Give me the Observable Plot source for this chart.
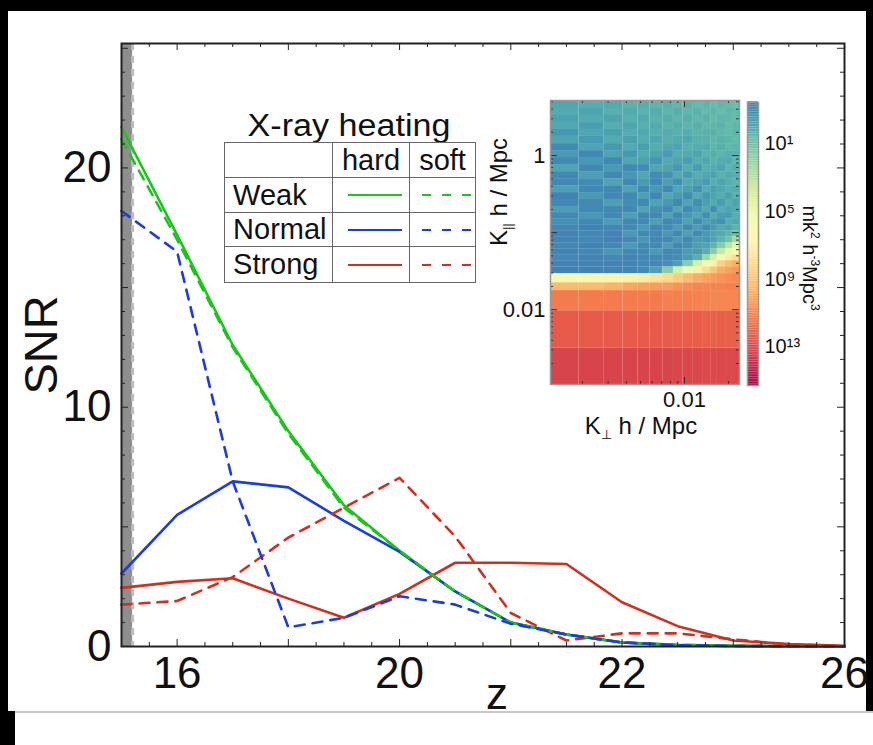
<!DOCTYPE html>
<html>
<head>
<meta charset="utf-8">
<script src="https://cdn.jsdelivr.net/npm/d3@7"></script>
<script src="https://cdn.jsdelivr.net/npm/@observablehq/plot@0.6"></script>
<style>
  html, body { margin: 0; padding: 0; background: #000; }
  #page { position: relative; width: 873px; height: 745px; overflow: hidden; background: #000; font-family: "Liberation Sans", Arial, sans-serif; }
  .abs { position: absolute; }
  #legend { border-collapse: collapse; background: #fff; font-size: 29px; color: #111; }
  #legend td { border: 1px solid #666; padding: 0; vertical-align: middle; }
</style>
</head>
<body>
<div id="page">
  <div class="abs" style="left:8px;top:11px;width:858px;height:700px;background:#fff"></div>
  <div class="abs" style="left:15px;top:711px;width:858px;height:34px;background:#fff;border-top:2px solid #c8c8c8"></div>
  <div id="main" class="abs" style="left:0;top:0"></div>
  <div class="abs" style="left:224px;top:108px;width:250px;text-align:center;font-size:31px;color:#111;transform:scaleX(1.1)">X-ray heating</div>
  <table id="legend" class="abs" style="left:224px;top:142px">
    <tr style="height:35px"><td style="width:107px"></td><td style="width:76px;text-align:center">hard</td><td style="width:65px;text-align:center">soft</td></tr>
    <tr style="height:35px"><td>&nbsp;Weak</td><td id="lh0"></td><td id="ls0"></td></tr>
    <tr style="height:33px"><td>&nbsp;Normal</td><td id="lh1"></td><td id="ls1"></td></tr>
    <tr style="height:36px"><td>&nbsp;Strong</td><td id="lh2"></td><td id="ls2"></td></tr>
  </table>
  <div id="inset" class="abs" style="left:470px;top:90px"></div>
  <div id="cbar" class="abs" style="left:737px;top:92px"></div>
  <div class="abs" style="left:500px;top:192px;transform:translate(-50%,-50%) rotate(-90deg);white-space:nowrap;font-size:24px;color:#111">K<sub style="font-size:13px">||</sub> h / Mpc</div>
  <div class="abs" style="left:641px;top:427px;transform:translate(-50%,-50%);white-space:nowrap;font-size:24px;color:#111">K<sub style="font-size:13px">⊥</sub> h / Mpc</div>
  <div class="abs" style="left:810px;top:258px;transform:translate(-50%,-50%) rotate(90deg);white-space:nowrap;font-size:20px;color:#111">mk<sup style="font-size:12px">2</sup> h<sup style="font-size:12px">-3</sup>Mpc<sup style="font-size:12px">3</sup></div>
</div>
<script>
// ---------- main chart data ----------
const zGrid = [15.5, 16, 16.5, 17, 17.5, 18, 18.5, 19, 19.5, 20, 20.5, 21, 21.5, 22];
const weakHard   = [21.7, 17.2, 12.6, 9.0, 5.9, 4.0, 2.3, 1.0, 0.5, 0.17, 0.07, 0.03, 0.01, 0.0];
const weakSoft   = [21.2, 17.0, 12.5, 8.9, 5.8, 4.0, 2.3, 1.0, 0.5, 0.17, 0.07, 0.03, 0.01, 0.0];
const normalHard = [3.05, 5.5, 6.9, 6.65, 5.25, 3.95, 2.3, 1.0, 0.5, 0.17, 0.05, 0.02, 0.01, 0.0];
const normalSoft = [18.2, 16.5, 6.9, 0.8, 1.2, 2.1, 1.75, 0.95, 0.5, 0.17, 0.05, 0.02, 0.01, 0.0];
const strongHard = [2.45, 2.7, 2.85, 2.0, 1.2, 2.2, 3.5, 3.5, 3.45, 1.85, 0.85, 0.25, 0.1, 0.03];
const strongSoft = [1.75, 1.9, 2.9, 4.55, 5.8, 7.05, 4.6, 1.4, 0.25, 0.55, 0.55, 0.3, 0.08, 0.02];

const xTickValues = [16, 18, 20, 22];
const xTickLabels = ["16", "20", "22", "26"];
const yTickValues = [0, 10, 20];
const yTickLabels = ["0", "10", "20"];
const xMajor = [16, 17, 18, 19, 20, 21, 22];
const xMinor = [15.75, 16.25, 16.5, 16.75, 17.25, 17.5, 17.75, 18.25, 18.5, 18.75, 19.25, 19.5, 19.75, 20.25, 20.5, 20.75, 21.25, 21.5, 21.75];
const yMajor = [5, 10, 15, 20, 25];
const yMinor = [1, 2, 3, 4, 6, 7, 8, 9, 11, 12, 13, 14, 16, 17, 18, 19, 21, 22, 23, 24];
const shadeBand = [15.5, 15.6];

const series = [
  {name: "Weak",   kind: "hard", color: "#1ec41e", values: weakHard},
  {name: "Normal", kind: "hard", color: "#1b3ed8", values: normalHard},
  {name: "Strong", kind: "hard", color: "#d2301e", values: strongHard},
  {name: "Strong", kind: "soft", color: "#d2301e", values: strongSoft},
  {name: "Weak",   kind: "soft", color: "#1ec41e", values: weakSoft},
  {name: "Normal", kind: "soft", color: "#1b3ed8", values: normalSoft}
];
const dash = "10,8";

// ---------- inset heat-map data ----------
const kPerpEdges = [0.00121, 0.0019, 0.0028, 0.0038, 0.0048, 0.0058, 0.0071, 0.0084, 0.0098, 0.0115, 0.0133, 0.0151, 0.0168, 0.0191, 0.0213, 0.0238];
const kParEdges = [0.00107, 0.0032, 0.0097, 0.0177, 0.0224, 0.0294, 0.0361, 0.0433, 0.0518, 0.0619, 0.0741, 0.0887, 0.106, 0.127, 0.152, 0.182, 0.218, 0.269, 0.331, 0.407, 0.502, 0.619, 0.764, 0.942, 1.16, 1.43, 1.77, 2.18, 2.68, 3.31, 4.08, 5.18];
// log10 power per cell, rows from lowest k_par upward, columns from lowest k_perp
const heat = [
  [13.2,13.2,13.2,13.2,13.2,13.2,13.2,13.1,13.1,13.1,13.0,13.0,13.0,13.0,13.0],
  [12.4,12.4,12.4,12.4,12.4,12.4,12.4,12.3,12.3,12.3,12.2,12.2,12.2,12.2,12.2],
  [11.3,11.3,11.3,11.3,11.3,11.3,11.2,11.2,11.2,11.1,11.1,11.0,11.0,11.0,11.0],
  [9.4,9.4,9.6,10.0,10.2,10.3,10.4,10.6,10.8,11.0,11.0,11.1,11.1,11.2,11.2],
  [6.3,6.3,6.6,6.9,7.2,7.7,8.2,8.7,9.3,9.8,10.1,10.4,10.6,10.8,10.9],
  [-1.3,-1.3,-1.2,-1.2,-1.0,-0.3,1.6,4.0,5.5,7.0,8.0,9.0,9.8,10.2,10.5],
  [-1.3,-1.3,-1.3,-1.2,-1.1,-1.1,-0.9,-0.3,1.6,4.0,5.5,7.0,8.5,9.3,9.8],
  [-1.1,-1.3,-1.1,-1.3,-1.1,-1.1,-1.1,-0.9,-0.5,0.2,2.2,4.0,6.0,7.2,8.0],
  [-1.3,-1.1,-0.6,-1.1,-1.1,-0.5,-1.1,-1.0,-0.4,-0.5,0.2,1.6,3.5,5.0,6.2],
  [-1.1,-1.3,-1.1,-0.5,-1.1,-1.1,-0.4,-1.1,-0.9,-0.3,-0.2,0.4,1.6,3.0,4.5],
  [-1.3,-1.1,-1.3,-1.1,-0.6,-1.1,-1.1,-0.5,-1.1,-0.4,-0.6,-0.2,0.4,1.0,2.4],
  [-1.3,-1.1,-1.3,-0.5,-1.1,-1.1,-0.6,-1.1,-0.3,-1.0,-0.5,-0.2,0.0,0.4,1.0],
  [-1.1,-1.3,-1.1,-1.1,-0.5,-1.1,-1.0,-0.4,-1.1,-0.3,-1.0,-0.5,0.0,-0.2,0.4],
  [-0.8,-1.1,-0.4,-1.1,-1.1,-0.3,-1.1,-0.9,-0.2,-1.0,-0.2,-0.6,-0.8,0.1,-0.1],
  [-1.1,-0.6,-1.1,-0.3,-1.1,-1.1,-0.2,-1.1,-0.6,-0.1,-0.9,0.0,-0.4,-0.5,0.2],
  [-0.4,-1.1,-1.1,-1.1,-0.2,-0.8,-1.1,-0.1,-1.1,-0.5,0.0,-1.0,0.1,-0.2,0.0],
  [-1.1,-1.1,-0.3,-0.9,-1.1,-0.2,-0.6,-1.1,-0.2,-0.9,-0.3,0.0,-0.5,0.2,-0.2],
  [-1.3,-0.5,-1.1,-1.1,-0.3,-1.1,-0.1,-0.5,-1.0,0.0,-0.6,-0.2,0.1,-0.3,0.3],
  [-0.3,-1.1,-1.1,-0.2,-1.1,-0.6,-1.1,-0.1,-0.3,-0.8,0.1,-0.4,-0.1,0.2,0.0],
  [-1.1,-1.0,-0.2,-1.1,-0.5,-1.1,-0.3,-0.9,0.0,-0.2,-0.5,0.2,-0.2,0.1,0.4],
  [-1.1,-0.3,-1.1,-0.6,-0.1,-1.0,-0.8,0.0,-0.5,0.1,-0.1,-0.3,0.3,0.0,0.2],
  [-0.2,-1.1,-0.5,-1.1,-1.0,-0.1,-0.2,-0.6,0.1,-0.4,0.2,0.0,-0.2,0.4,0.1],
  [-1.1,-0.6,-1.1,-0.1,-0.3,-0.7,0.0,-0.2,-0.4,0.2,-0.1,0.3,0.1,0.0,0.5],
  [-0.5,-1.1,-0.2,-0.6,0.0,-0.2,-0.5,0.1,0.0,-0.2,0.3,0.1,0.4,0.2,0.3],
  [-1.0,-0.2,-0.6,0.0,-0.4,0.1,-0.1,-0.2,0.2,0.1,0.0,0.4,0.2,0.5,0.4],
  [-0.2,-0.5,0.0,-0.3,0.1,-0.1,0.2,0.0,-0.1,0.3,0.2,0.5,0.3,0.4,0.6],
  [-0.6,-0.1,-0.3,0.1,-0.1,0.2,0.0,0.3,0.1,0.4,0.3,0.2,0.5,0.6,0.4],
  [-0.1,-0.4,0.1,-0.2,0.2,0.0,0.3,0.1,0.4,0.2,0.5,0.4,0.3,0.6,0.5],
  [-0.3,0.0,-0.2,0.2,0.0,0.3,0.1,0.4,0.2,0.5,0.3,0.6,0.4,0.5,0.7],
  [0.0,-0.2,0.2,0.0,0.3,0.1,0.4,0.2,0.5,0.3,0.6,0.4,0.7,0.5,0.6],
  [-0.1,0.1,0.0,0.3,0.1,0.4,0.2,0.5,0.3,0.6,0.4,0.7,0.5,0.6,0.8]
];
const powerRange = [-1.46, 15.3];
const cbarTicks = [1, 5, 9, 13];
const cbarLabels = ["10¹", "10⁵", "10⁹", "10¹³"];
const insetYTicks = [0.01, 1];
const insetYLabels = ["0.01", "1"];
const insetXTicks = [0.01];
const insetXLabels = ["0.01"];

// ---------- main chart ----------
const rows = series.flatMap(s => s.values.map((v, i) => ({z: zGrid[i], snr: v, key: s.name + "-" + s.kind})));
const W = 873, H = 745, mL = 121, mR = 29, mT = 43, mB = 99;
const innerW = W - mL - mR, innerH = H - mT - mB;
const xLabelMap = new Map(xTickValues.map((v, i) => [v, xTickLabels[i]]));
const yLabelMap = new Map(yTickValues.map((v, i) => [v, yTickLabels[i]]));

const lineMarks = series.map(s => Plot.line(rows.filter(r => r.key === s.name + "-" + s.kind), {
  x: "z", y: "snr", stroke: s.color, strokeWidth: 2.6,
  strokeDasharray: s.kind === "soft" ? dash : null, strokeLinejoin: "round"
}));

const main = Plot.plot({
  width: W, height: H, marginLeft: mL, marginRight: mR, marginTop: mT, marginBottom: mB,
  style: {background: "transparent", color: "#111", fontFamily: "Liberation Sans, Arial, sans-serif"},
  x: {domain: [15.5, 22]},
  y: {domain: [0, 25.2]},
  marks: [
    Plot.rect([shadeBand], {x1: d => d[0], x2: d => d[1], y1: 0, y2: 25.2, fill: "#8e8e8e"}),
    Plot.ruleX([shadeBand[1]], {stroke: "#bdbdbd", strokeWidth: 3, strokeDasharray: "7,6"}),
    ...lineMarks,
    Plot.ruleX(xMajor, {insetTop: innerH - 7, stroke: "#222"}),
    Plot.ruleX(xMajor, {insetBottom: innerH - 7, stroke: "#222"}),
    Plot.ruleX(xMinor, {insetTop: innerH - 4, stroke: "#222"}),
    Plot.ruleX(xMinor, {insetBottom: innerH - 4, stroke: "#222"}),
    Plot.ruleY(yMajor, {insetRight: innerW - 7, stroke: "#222"}),
    Plot.ruleY(yMajor, {insetLeft: innerW - 7, stroke: "#222"}),
    Plot.ruleY(yMinor, {insetRight: innerW - 4, stroke: "#222"}),
    Plot.ruleY(yMinor, {insetLeft: innerW - 4, stroke: "#222"}),
    Plot.frame({stroke: "#222", strokeWidth: 2}),
    Plot.axisX(xTickValues, {anchor: "bottom", tickSize: 0, tickPadding: 10, fontSize: 44, label: null, tickFormat: d => xLabelMap.get(d)}),
    Plot.axisY(yTickValues, {anchor: "left", tickSize: 0, tickPadding: 10, fontSize: 44, label: null, tickFormat: d => yLabelMap.get(d)}),
    Plot.text(["SNR"], {frameAnchor: "left", textAnchor: "middle", lineAnchor: "middle", rotate: -90, dx: -80, fontSize: 47, fill: "#111"}),
    Plot.text(["z"], {frameAnchor: "bottom", textAnchor: "middle", lineAnchor: "middle", dx: 14, dy: 48, fontSize: 44, fill: "#111"})
  ]
});
document.getElementById("main").appendChild(main);

// ---------- legend swatches ----------
function swatch(color, dashed, x1, x2, w) {
  return `<svg width="${w}" height="12" style="display:block"><line x1="${x1}" x2="${x2}" y1="6" y2="6" stroke="${color}" stroke-width="2" ${dashed ? 'stroke-dasharray="9,11"' : ''}/></svg>`;
}
const legendColors = ["#1ec41e", "#1b3ed8", "#d2301e"];
legendColors.forEach((c, i) => {
  document.getElementById("lh" + i).innerHTML = swatch(c, false, 15, 69, 76);
  document.getElementById("ls" + i).innerHTML = swatch(c, true, 12, 65, 65);
});

// ---------- inset heat map ----------
const cells = [];
heat.forEach((row, r) => row.forEach((v, c) => cells.push({
  x1: kPerpEdges[c], x2: kPerpEdges[c + 1], y1: kParEdges[r], y2: kParEdges[r + 1], v
})));
const colorOpt = {type: "linear", domain: powerRange, interpolate: t => d3.interpolateSpectral(0.92 * (1 - t))};
const iW = 280, iH = 350, imL = 80, imT = 10, imR = iW - imL - 189, imB = iH - imT - 284;
const xDec = [0.01], xMin = [0.002, 0.003, 0.004, 0.005, 0.006, 0.007, 0.008, 0.009, 0.02];
const yDec = [0.01, 0.1, 1], yMin = [0.002, 0.003, 0.004, 0.005, 0.006, 0.007, 0.008, 0.009, 0.02, 0.03, 0.04, 0.05, 0.06, 0.07, 0.08, 0.09, 0.2, 0.3, 0.4, 0.5, 0.6, 0.7, 0.8, 0.9, 2, 3, 4, 5];
const inset = Plot.plot({
  width: iW, height: iH, marginLeft: imL, marginRight: imR, marginTop: imT, marginBottom: imB,
  style: {background: "transparent", color: "#111", fontFamily: "Liberation Sans, Arial, sans-serif"},
  x: {type: "log", domain: [0.00121, 0.0238]},
  y: {type: "log", domain: [0.00107, 5.18]},
  color: colorOpt,
  marks: [
    Plot.rect(cells, {x1: "x1", x2: "x2", y1: "y1", y2: "y2", fill: "v"}),
    Plot.ruleX(xDec, {insetTop: 284 - 7, stroke: "#333"}),
    Plot.ruleX(xDec, {insetBottom: 284 - 7, stroke: "#333"}),
    Plot.ruleX(xMin, {insetTop: 284 - 3, stroke: "#333"}),
    Plot.ruleX(xMin, {insetBottom: 284 - 3, stroke: "#333"}),
    Plot.ruleY(yDec, {insetRight: 189 - 7, stroke: "#333"}),
    Plot.ruleY(yDec, {insetLeft: 189 - 7, stroke: "#333"}),
    Plot.ruleY(yMin, {insetRight: 189 - 3, stroke: "#333"}),
    Plot.ruleY(yMin, {insetLeft: 189 - 3, stroke: "#333"}),
    Plot.frame({stroke: "#999", strokeWidth: 1.5}),
    Plot.axisY(insetYTicks, {anchor: "left", tickSize: 0, tickPadding: 5, fontSize: 22, label: null, tickFormat: d => insetYLabels[insetYTicks.indexOf(d)]}),
    Plot.axisX(insetXTicks, {anchor: "bottom", tickSize: 0, tickPadding: 7, fontSize: 22, label: null, tickFormat: d => insetXLabels[insetXTicks.indexOf(d)]})
  ]
});
document.getElementById("inset").appendChild(inset);

// ---------- colour bar ----------
const ramp = d3.range(-1.5, 15.3, 0.1).map(v => ({v0: v, v1: v + 0.1}));
const cbLabelMap = new Map(cbarTicks.map((v, i) => [v, cbarLabels[i]]));
const cbar = Plot.plot({
  width: 120, height: 300, marginLeft: 10, marginRight: 99, marginTop: 10, marginBottom: 7,
  style: {background: "transparent", color: "#111", fontFamily: "Liberation Sans, Arial, sans-serif"},
  x: {domain: [0, 1], axis: null},
  y: {domain: [powerRange[1], powerRange[0]], axis: null},
  color: colorOpt,
  marks: [
    Plot.rect(ramp, {x1: 0, x2: 1, y1: "v0", y2: "v1", fill: "v0"}),
    Plot.frame({stroke: "#999", strokeWidth: 1.5}),
    Plot.axisY(cbarTicks, {anchor: "right", tickSize: 0, tickPadding: 6, fontSize: 20, label: null, tickFormat: d => cbLabelMap.get(d)})
  ]
});
document.getElementById("cbar").appendChild(cbar);
</script>
</body>
</html>
